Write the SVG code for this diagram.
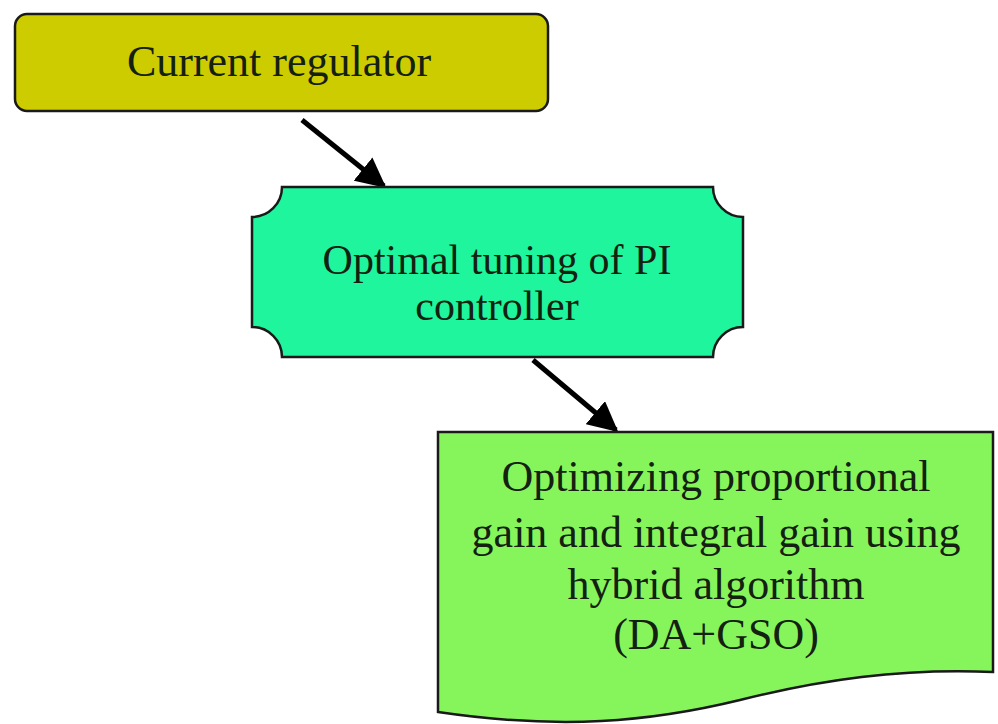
<svg xmlns="http://www.w3.org/2000/svg" width="998" height="724" viewBox="0 0 998 724">
<defs>
<style>
.node{stroke:#1a1a1a;stroke-width:2.5}
.lbl{font-family:"Liberation Serif","Times New Roman",serif;fill:#142010;text-anchor:middle}
.edge{stroke:#000;stroke-width:5;fill:none}
</style>
<marker id="ah" viewBox="0 0 10 10" refX="9" refY="5" markerWidth="6" markerHeight="6" orient="auto" markerUnits="strokeWidth">
<path d="M0,0 L10,5 L0,10 Z" fill="#000"/>
</marker>
</defs>
<rect width="998" height="724" fill="#ffffff"/>
<g id="connectors">
<line class="edge" x1="302" y1="120" x2="384" y2="186" marker-end="url(#ah)"/>
<line class="edge" x1="533" y1="360" x2="616" y2="430" marker-end="url(#ah)"/>
</g>
<g id="current-regulator">
<rect class="node" x="15" y="14" width="533" height="97" rx="12" ry="12" fill="#cccc00"/>
<text class="lbl" x="279" y="76" font-size="44">Current regulator</text>
</g>
<g id="optimal-tuning">
<path class="node" fill="#1ef59c" d="M282,187 H713 A30,30 0 0 0 743,217 V327 A30,30 0 0 0 713,357 H282 A30,30 0 0 0 252,327 V217 A30,30 0 0 0 282,187 Z"/>
<text class="lbl" x="497" y="274" font-size="42">Optimal tuning of PI</text>
<text class="lbl" x="497" y="320" font-size="42">controller</text>
</g>
<g id="optimizing-gain">
<path class="node" fill="#86f55c" d="M438,432 H993 V672 C900,668 820,680 740,700 C650,722 560,730 438,712 Z"/>
<text class="lbl" x="716" y="491" font-size="44">Optimizing proportional</text>
<text class="lbl" x="716" y="547" font-size="44">gain and integral gain using</text>
<text class="lbl" x="716" y="599" font-size="44">hybrid algorithm</text>
<text class="lbl" x="716" y="649" font-size="44">(DA+GSO)</text>
</g>
</svg>
